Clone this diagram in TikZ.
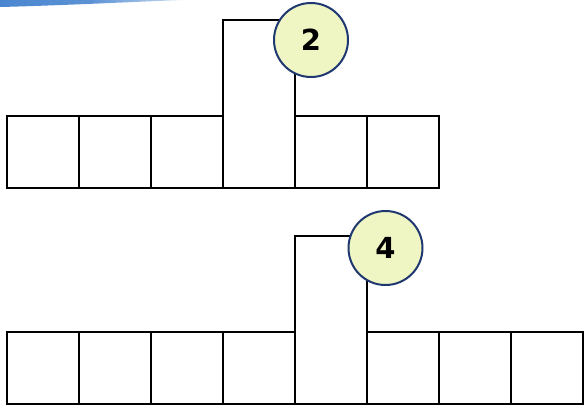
\documentclass[tikz,border=0pt]{standalone}
\usepackage{fontspec}
\setmainfont{DejaVu Sans}
\begin{document}
\begin{tikzpicture}[x=1pt,y=-1pt,
  cell/.style={draw=black,line width=2.2pt,fill=white},
  badge/.style={circle,draw=badgeline,line width=2pt,fill=badgefill,minimum size=74pt,inner sep=0pt,font=\bfseries\fontsize{29}{29}\selectfont}]
\definecolor{badgeline}{HTML}{1F3870}
\definecolor{badgefill}{HTML}{F0F5C4}
\definecolor{topblue}{HTML}{4A86D0}
\useasboundingbox (0,0) rectangle (586,407);
\shade[left color=topblue,right color=topblue!30!white,middle color=topblue!90!white]
  (0,0) -- (182,0) .. controls (130,2) and (60,5.5) .. (0,7) -- cycle;
% top row
\draw[cell] (223,20) rectangle (295,188);
\foreach \i in {0,1,2,4,5}{
  \draw[cell] ({7+72*\i},116) rectangle ({79+72*\i},188);
}
\node[badge] (b2) at (311,40) {2};
% bottom row
\draw[cell] (295,236) rectangle (367,404);
\foreach \i in {0,1,2,3,5,6,7}{
  \draw[cell] ({7+72*\i},332) rectangle ({79+72*\i},404);
}
\node[badge] (b4) at (385.5,248) {4};
\end{tikzpicture}
\end{document}
